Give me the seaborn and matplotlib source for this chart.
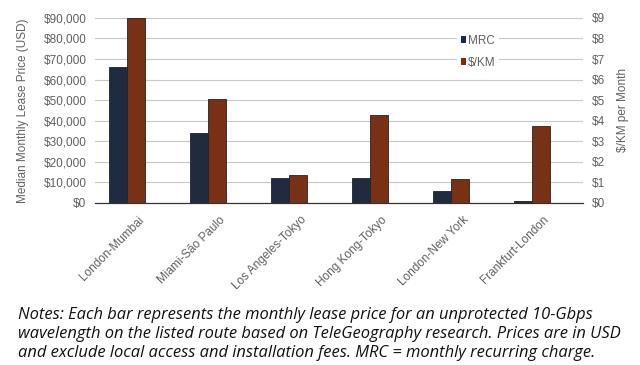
import matplotlib
matplotlib.use("Agg")
import matplotlib.pyplot as plt
import matplotlib.transforms as mtransforms
from matplotlib.patches import Patch
from matplotlib.ticker import FuncFormatter
import seaborn as sns
import pandas as pd
import numpy as np

# data
routes = ['London-Mumbai', 'Miami-São Paulo', 'Los Angeles-Tokyo',
          'Hong Kong-Tokyo', 'London-New York', 'Frankfurt-London']
mrc = [66000, 34000, 12000, 12000, 6000, 1000]
per_km = [9.0, 5.05, 1.35, 4.3, 1.15, 3.75]
series = ['MRC', '$/KM']
colors = ['#1b2a45', '#8a2a05']

notes = ("Notes: Each bar represents the monthly lease price for an unprotected 10-Gbps\n"
         "wavelength on the listed route based on TeleGeography research. Prices are in USD\n"
         "and exclude local access and installation fees. MRC = monthly recurring charge.")

sns.set_style('white')
plt.rcParams['font.family'] = ['Liberation Sans', 'DejaVu Sans']

# long tables: each axis gets its own series, the other one left empty so dodge lines up
left_df = pd.DataFrame({'route': routes * 2,
                        'series': [series[0]] * 6 + [series[1]] * 6,
                        'value': mrc + [np.nan] * 6})
right_df = pd.DataFrame({'route': routes * 2,
                         'series': [series[0]] * 6 + [series[1]] * 6,
                         'value': [np.nan] * 6 + per_km})

fig = plt.figure(figsize=(6.4, 3.65), dpi=100)
ax = fig.add_axes([0.148, 0.444, 0.763, 0.507])
ax2 = ax.twinx()

grey = '#606060'
fs = 8.5
for a, d in [(ax, left_df), (ax2, right_df)]:
    sns.barplot(data=d, x='route', y='value', hue='series', hue_order=series,
                palette=colors, width=0.44, ax=a, edgecolor='#222222',
                linewidth=0.6, legend=False, errorbar=None)

ax.set_ylim(0, 90000)
ax2.set_ylim(0, 9)
ax.set_yticks(np.arange(0, 90001, 10000))
ax2.set_yticks(np.arange(0, 10, 1))
ax.yaxis.set_major_formatter(FuncFormatter(lambda v, p: f'${v:,.0f}'))
ax2.yaxis.set_major_formatter(FuncFormatter(lambda v, p: f'${v:.0f}'))
ax.set_xlim(-0.4, 5.63)

ax.grid(axis='y', color='#c8c8c8', linewidth=0.8)
ax.set_axisbelow(True)
for a in (ax, ax2):
    for s in ['top', 'left', 'right']:
        a.spines[s].set_visible(False)
    a.spines['bottom'].set_color('#333333')
    a.tick_params(length=0, labelsize=fs, labelcolor=grey, pad=6)

ax.set_xlabel('')
ax2.set_xlabel('')
ax.set_xticks(range(len(routes)))
ax.set_xticklabels(routes, rotation=45, ha='right', rotation_mode='anchor')
ax.tick_params(axis='x', pad=8)
shift = mtransforms.ScaledTranslation(11 / 100, 0, fig.dpi_scale_trans)
for lbl in ax.get_xticklabels():
    lbl.set_transform(lbl.get_transform() + shift)

ax.set_ylabel('Median Monthly Lease Price (USD)', fontsize=fs, color=grey, labelpad=10)
ax2.set_ylabel('$/KM per Month', fontsize=fs, color=grey, labelpad=9)

# legend with white box over the grid lines
handles = [Patch(facecolor=c, edgecolor='none') for c in colors]
ax2.legend(handles, series, loc='upper left', bbox_to_anchor=(0.73, 0.96),
           frameon=True, facecolor='white', edgecolor='none', framealpha=1,
           fontsize=fs, handlelength=0.45, handleheight=0.45, handletextpad=0.2,
           labelspacing=0.85, borderpad=0.3, labelcolor=grey)

fig.text(0.028, 0.83 - 0.67, notes, fontsize=11.9, style='italic', family='Open Sans',
         color='#111111', va='top', linespacing=1.27)

fig.savefig('out.png', dpi=100, facecolor='white')
